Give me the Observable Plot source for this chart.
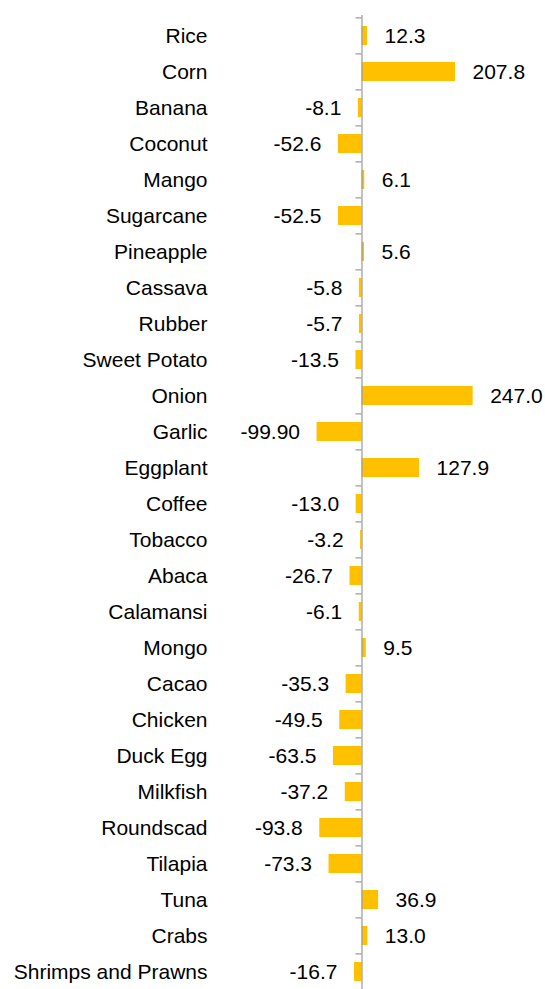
<!DOCTYPE html>
<html>
<head>
<meta charset="utf-8">
<script src="https://cdn.jsdelivr.net/npm/d3@7"></script>
<script src="https://cdn.jsdelivr.net/npm/@observablehq/plot@0.6"></script>
<style>
  html, body { margin: 0; padding: 0; background: #fff; overflow: hidden; }
</style>
</head>
<body>
<div id="chart"></div>
<script>
const categories = ["Rice","Corn","Banana","Coconut","Mango","Sugarcane","Pineapple","Cassava","Rubber","Sweet Potato","Onion","Garlic","Eggplant","Coffee","Tobacco","Abaca","Calamansi","Mongo","Cacao","Chicken","Duck Egg","Milkfish","Roundscad","Tilapia","Tuna","Crabs","Shrimps and Prawns"];
const values = [12.3,207.8,-8.1,-52.6,6.1,-52.5,5.6,-5.8,-5.7,-13.5,247.0,-99.9,127.9,-13.0,-3.2,-26.7,-6.1,9.5,-35.3,-49.5,-63.5,-37.2,-93.8,-73.3,36.9,13.0,-16.7];
const valueLabels = ["12.3","207.8","-8.1","-52.6","6.1","-52.5","5.6","-5.8","-5.7","-13.5","247.0","-99.90","127.9","-13.0","-3.2","-26.7","-6.1","9.5","-35.3","-49.5","-63.5","-37.2","-93.8","-73.3","36.9","13.0","-16.7"];

const data = categories.map((c, i) => ({cat: c, value: values[i], label: valueLabels[i]}));
const pos = data.filter(d => d.value >= 0);
const neg = data.filter(d => d.value < 0);

const H = 989, yTop = 15, yBottom = 993;
const step = (yBottom - yTop) / categories.length;

const chart = Plot.plot({
  width: 545,
  height: H,
  marginTop: yTop,
  marginBottom: H - yBottom,
  marginLeft: 316.5,
  marginRight: 71,
  style: {fontFamily: "'Liberation Sans', Arial, sans-serif", fontSize: "21px", color: "#000", background: "#fff"},
  x: {domain: [-100, 250], axis: null},
  y: {domain: categories, paddingInner: 0.47, paddingOuter: 0.235},
  marks: [
    Plot.barX(data, {y: "cat", x: "value", fill: "#FFC000"}),
    Plot.ruleX([0], {stroke: "#999", strokeWidth: 1.2}),
    Plot.ruleY(categories, {y: d => d, x1: -13.5, x2: 0, dy: -step / 2, stroke: "#999", strokeWidth: 1.2}),
    Plot.text(pos, {y: "cat", x: "value", text: "label", textAnchor: "start", dx: 17, fill: "#000"}),
    Plot.text(neg, {y: "cat", x: "value", text: "label", textAnchor: "end", dx: -17, fill: "#000"}),
    Plot.axisY({anchor: "left", tickSize: 0, tickPadding: 109.5, fontSize: 21, fill: "#000", label: null})
  ]
});
document.getElementById("chart").appendChild(chart);
</script>
</body>
</html>
